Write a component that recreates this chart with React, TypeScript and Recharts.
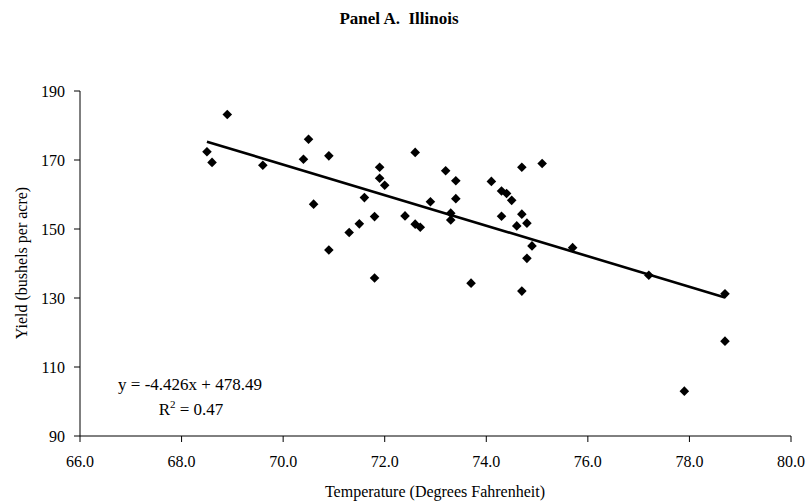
import React from "react";
import { ScatterChart, Scatter, XAxis, YAxis } from "recharts";

// Average growing-season temperature (°F) and corn yield for Illinois
const temps = [
  68.5, 68.6, 68.9, 69.6, 70.4, 70.5, 70.9, 70.6, 70.9, 71.3,
  71.5, 71.6, 71.8, 71.8, 71.9, 71.9, 72.0, 72.4, 72.6, 72.6,
  72.7, 72.9, 73.2, 73.4, 73.4, 73.3, 73.3, 74.1, 74.3, 74.4,
  74.5, 74.7, 75.1, 74.3, 74.7, 74.6, 74.8, 74.9, 74.8, 75.7,
  77.2, 73.7, 74.7, 78.7, 78.7, 77.9,
];
const yields = [
  172.4, 169.3, 183.2, 168.5, 170.2, 176.0, 171.2, 157.2, 143.9, 149.0,
  151.5, 159.1, 153.6, 135.8, 167.9, 164.7, 162.7, 153.8, 172.2, 151.4,
  150.5, 157.9, 166.9, 164.0, 158.8, 154.6, 152.6, 163.8, 161.0, 160.3,
  158.3, 167.9, 169.0, 153.7, 154.3, 150.9, 151.7, 145.1, 141.5, 144.6,
  136.6, 134.3, 132.0, 131.2, 117.5, 103.0,
];

const xTicks = [66, 68, 70, 72, 74, 76, 78, 80];
const yTicks = [90, 110, 130, 150, 170, 190];

const TREND_SLOPE = -4.426;
const TREND_INTERCEPT = 478.49;
const R_SQUARED = "0.47";

const points = temps.map((t, i) => ({ x: t, y: yields[i] }));
const xMin = Math.min(...temps);
const xMax = Math.max(...temps);
const trendPoints = [xMin, xMax].map((x) => ({ x, y: TREND_SLOPE * x + TREND_INTERCEPT }));

const FONT = '"Liberation Serif", "Times New Roman", serif';

const Diamond = (props: any) => {
  const { cx, cy } = props;
  if (cx == null || cy == null) return <g />;
  const r = 4.8;
  return (
    <polygon
      points={`${cx},${cy - r} ${cx + r},${cy} ${cx},${cy + r} ${cx - r},${cy}`}
      fill="#000"
    />
  );
};

const NoDot = () => <g />;

const YLabel = () => (
  <text
    x={27}
    y={263}
    transform="rotate(-90 27 263)"
    textAnchor="middle"
    fontFamily={FONT}
    fontSize={16}
    fill="#000"
  >
    Yield (bushels per acre)
  </text>
);

const XLabel = () => (
  <text x={435} y={497} textAnchor="middle" fontFamily={FONT} fontSize={16} fill="#000">
    Temperature (Degrees Fahrenheit)
  </text>
);

export default function App() {
  const tickStyle = { fill: "#000", fontSize: 16, fontFamily: FONT };
  return (
    <div style={{ position: "absolute", left: 0, top: 0, width: 809, height: 503, background: "#fff" }}>
      <ScatterChart width={809} height={503} margin={{ top: 91, right: 18, bottom: 0, left: 0 }}>
        <XAxis
          type="number"
          dataKey="x"
          domain={[66, 80]}
          ticks={xTicks}
          interval={0}
          allowDataOverflow
          tickFormatter={(v: number) => v.toFixed(1)}
          height={67}
          tick={tickStyle}
          tickSize={6}
          tickMargin={14}
          axisLine={{ stroke: "#000", strokeWidth: 1 }}
          tickLine={{ stroke: "#000", strokeWidth: 1 }}
          label={<XLabel />}
        />
        <YAxis
          type="number"
          dataKey="y"
          domain={[90, 190]}
          ticks={yTicks}
          interval={0}
          allowDataOverflow
          width={80}
          tick={tickStyle}
          tickSize={6}
          tickMargin={9}
          axisLine={{ stroke: "#000", strokeWidth: 1 }}
          tickLine={{ stroke: "#000", strokeWidth: 1 }}
          label={<YLabel />}
        />
        <Scatter data={points} shape={<Diamond />} isAnimationActive={false} />
        <Scatter
          data={trendPoints}
          shape={<NoDot />}
          line={{ stroke: "#000", strokeWidth: 2.6 }}
          isAnimationActive={false}
        />
        <text
          x={399}
          y={24}
          textAnchor="middle"
          fontFamily={FONT}
          fontSize={17}
          fontWeight="bold"
          fill="#000"
          style={{ whiteSpace: "pre" }}
        >
          {"Panel A.  Illinois"}
        </text>
        <text x={190} y={390} textAnchor="middle" fontFamily={FONT} fontSize={17} fill="#000">
          {`y = ${TREND_SLOPE}x + ${TREND_INTERCEPT}`}
        </text>
        <text x={191} y={415} textAnchor="middle" fontFamily={FONT} fontSize={17} fill="#000">
          R<tspan dy={-7} fontSize={11}>2</tspan>
          <tspan dy={7}>{` = ${R_SQUARED}`}</tspan>
        </text>
      </ScatterChart>
    </div>
  );
}
